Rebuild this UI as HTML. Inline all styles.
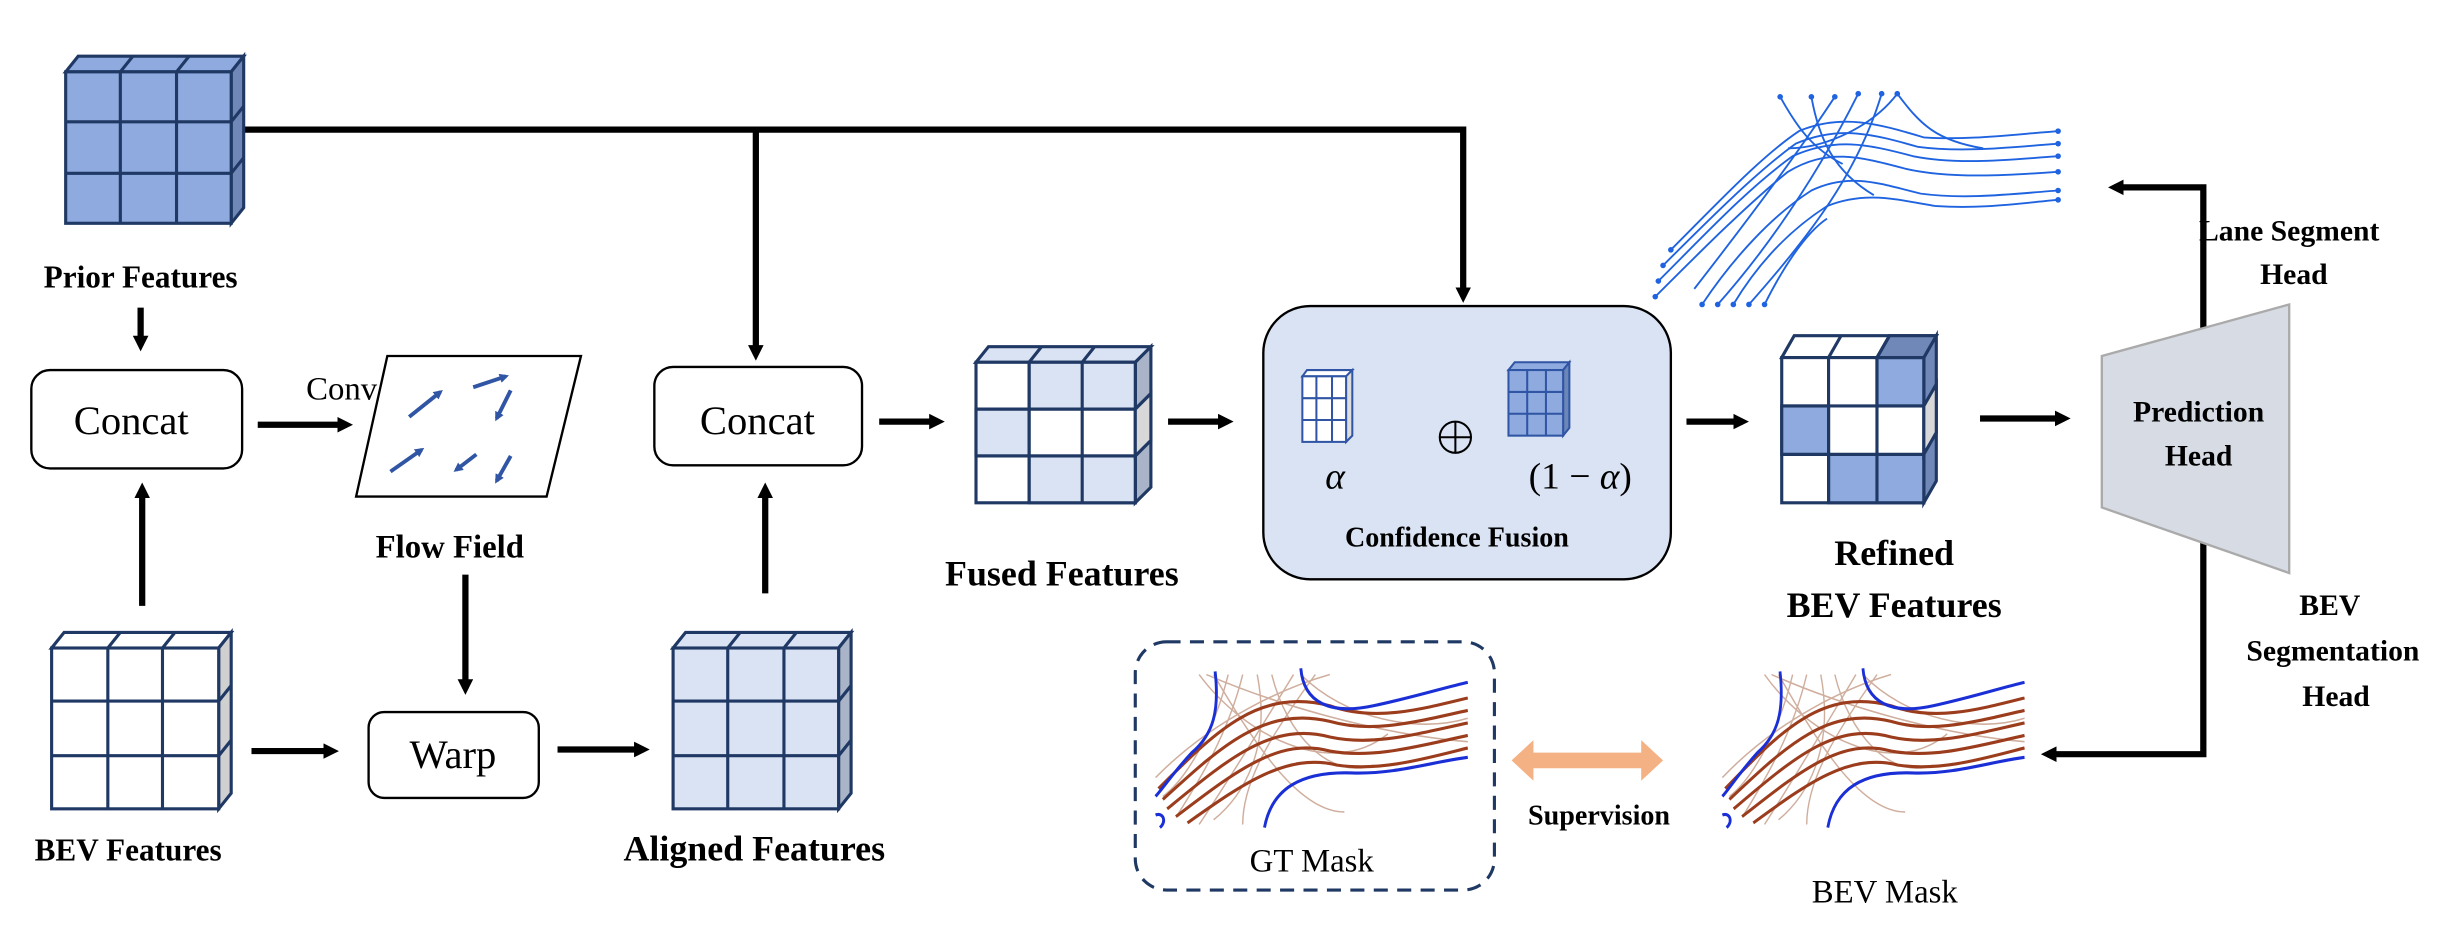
<!DOCTYPE html>
<html><head><meta charset="utf-8"><style>html,body{margin:0;padding:0;background:#fff}svg{display:block}</style></head><body>
<svg width="2447" height="940" viewBox="0 0 1567 602" xmlns="http://www.w3.org/2000/svg" font-family="'Liberation Serif', serif">
<defs>
<marker id="ah" markerWidth="10" markerHeight="10" refX="6" refY="5" orient="auto" markerUnits="userSpaceOnUse"><path d="M0,0 L10,5 L0,10 z" fill="#000"/></marker>
<marker id="ab" markerWidth="6" markerHeight="6" refX="4" refY="3" orient="auto" markerUnits="userSpaceOnUse"><path d="M0,0 L6,3 L0,6 z" fill="#2f55a4"/></marker>
<g id="mask">
 <g fill="none" stroke="#c49a86" stroke-width="1" opacity="0.8">
  <path d="M30,432 C60,470 120,500 160,470"/><path d="M40,432 C70,480 100,520 130,520"/><path d="M50,432 C40,470 20,500 5,510"/><path d="M60,432 C50,470 30,500 15,522"/><path d="M70,432 C80,480 60,510 40,525"/><path d="M80,432 C90,470 120,500 150,490"/><path d="M95,432 C70,470 50,500 30,528"/><path d="M100,432 C130,460 180,470 215,460"/><path d="M110,432 C80,470 60,500 60,528"/><path d="M35,432 C80,450 150,470 215,475"/><path d="M0,498 C40,460 90,440 120,432"/>
 </g>
 <g fill="none" stroke="#9b3d1d" stroke-width="2">
  <path d="M2,505 C40,470 70,440 120,452 C150,462 180,455 215,447"/>
  <path d="M5,512 C45,478 75,452 120,462 C150,470 180,462 215,455"/>
  <path d="M8,518 C50,486 80,462 120,472 C150,478 180,470 215,463"/>
  <path d="M14,523 C55,494 85,472 120,481 C150,486 180,478 215,471"/>
  <path d="M22,527 C60,502 90,482 125,490 C155,494 185,486 215,479"/>
 </g>
 <g fill="none" stroke="#1a2fd6" stroke-width="2">
  <path d="M41,430 C44,455 40,470 25,482 C12,495 5,505 0,510"/>
  <path d="M100,428 C102,450 120,458 150,452 C180,446 200,440 215,437"/>
  <path d="M215,485 C190,488 165,496 135,495 C100,494 80,505 75,530"/>
  <path d="M0,522 C5,520 8,526 3,530"/>
 </g>
</g>
</defs>

<g stroke="#000" stroke-width="4" fill="none">
 <path d="M148,83 H937 V190" marker-end="url(#ah)"/>
 <path d="M484,83 V227" marker-end="url(#ah)"/>
 <path d="M90,197 V221" marker-end="url(#ah)"/>
 <path d="M91,388 V313" marker-end="url(#ah)"/>
 <path d="M165,272 H222" marker-end="url(#ah)"/>
 <path d="M298,368 V441" marker-end="url(#ah)"/>
 <path d="M161,481 H213" marker-end="url(#ah)"/>
 <path d="M357,480 H412" marker-end="url(#ah)"/>
 <path d="M490,380 V313" marker-end="url(#ah)"/>
 <path d="M563,270 H601" marker-end="url(#ah)"/>
 <path d="M748,270 H786" marker-end="url(#ah)"/>
 <path d="M1080,270 H1116" marker-end="url(#ah)"/>
 <path d="M1268,268 H1322" marker-end="url(#ah)"/>
 <path d="M1411,228 V120 H1354" marker-end="url(#ah)"/>
 <path d="M1411,330 V483 H1311" marker-end="url(#ah)"/>
</g>

<g stroke="#1f3864" stroke-width="2">
 <path d="M42,46 L50,36 H156 L148,46 Z" fill="#8eaadf"/>
 <path d="M148,46 L156,36 V133 L148,143 Z" fill="#7088b8"/>
 <rect x="42" y="46" width="106" height="97" fill="#8eaadf"/>
 <path d="M77,46 V143 M113,46 V143 M42,78 H148 M42,111 H148 M77,46 L85,36 M113,46 L121,36 M148,78 L156,68 M148,111 L156,101" fill="none"/>
</g>
<text x="90" y="184" font-size="20" font-weight="bold" text-anchor="middle">Prior Features</text>

<rect x="20" y="237" width="135" height="63" rx="12" fill="#fff" stroke="#000" stroke-width="1.5"/>
<text x="84" y="278" font-size="26" text-anchor="middle">Concat</text>
<text x="196" y="256" font-size="21">Conv</text>

<path d="M248,228 H372 L350,318 H228 Z" fill="#fff" stroke="#000" stroke-width="1.5"/>
<g stroke="#2f55a4" stroke-width="2.5" marker-end="url(#ab)">
 <path d="M262,267 L282,251"/><path d="M303,248 L324,241"/><path d="M327,250 L318,268"/>
 <path d="M250,302 L270,288"/><path d="M305,291 L292,301"/><path d="M327,292 L318,308"/>
</g>
<text x="288" y="357" font-size="21" font-weight="bold" text-anchor="middle">Flow Field</text>

<rect x="236" y="456" width="109" height="55" rx="10" fill="#fff" stroke="#000" stroke-width="1.5"/>
<text x="290" y="492" font-size="26" text-anchor="middle">Warp</text>

<g stroke="#1f3864" stroke-width="2">
 <path d="M33,415 L41,405 H148 L140,415 Z" fill="#fff"/>
 <path d="M140,415 L148,405 V508 L140,518 Z" fill="#d0d0d0"/>
 <rect x="33" y="415" width="107" height="103" fill="#fff"/>
 <path d="M69,415 V518 M104,415 V518 M33,449 H140 M33,484 H140 M69,415 L77,405 M104,415 L112,405 M140,449 L148,439 M140,484 L148,474" fill="none"/>
</g>
<text x="82" y="551" font-size="20" font-weight="bold" text-anchor="middle">BEV Features</text>

<g stroke="#1f3864" stroke-width="2">
 <path d="M431,415 L439,405 H545 L537,415 Z" fill="#dae3f3"/>
 <path d="M537,415 L545,405 V508 L537,518 Z" fill="#a9b4c8"/>
 <rect x="431" y="415" width="106" height="103" fill="#dae3f3"/>
 <path d="M466,415 V518 M502,415 V518 M431,449 H537 M431,484 H537 M466,415 L474,405 M502,415 L510,405 M537,449 L545,439 M537,484 L545,474" fill="none"/>
</g>
<text x="483" y="551" font-size="23" font-weight="bold" text-anchor="middle">Aligned Features</text>

<rect x="419" y="235" width="133" height="63" rx="12" fill="#fff" stroke="#000" stroke-width="1.5"/>
<text x="485" y="278" font-size="26" text-anchor="middle">Concat</text>

<g stroke="#1f3864" stroke-width="2">
 <path d="M625,232 L633,222 H737 L727,232 Z" fill="#dae3f3"/>
 <path d="M727,232 L737,222 V312 L727,322 Z" fill="#a9b4c8"/>
 <rect x="625" y="232" width="102" height="90" fill="#fff"/>
 <rect x="659" y="232" width="68" height="30" fill="#dae3f3"/>
 <rect x="625" y="262" width="34" height="30" fill="#dae3f3"/>
 <rect x="659" y="292" width="68" height="30" fill="#dae3f3"/>
 <path d="M659,232 V322 M693,232 V322 M625,262 H727 M625,292 H727 M659,232 L667,222 M693,232 L701,222 M727,262 L737,252 M727,292 L737,282" fill="none"/>
 <path d="M727,262 L737,252 V282 L727,292 Z" fill="#d8d8d8"/>
</g>
<text x="680" y="375" font-size="23" font-weight="bold" text-anchor="middle">Fused Features</text>

<rect x="809" y="196" width="261" height="175" rx="30" fill="#dae3f3" stroke="#000" stroke-width="1.5"/>
<g stroke="#2f55a4" stroke-width="1.3">
 <path d="M834,241 L837,237 H866 L862,241 Z" fill="#fff"/>
 <path d="M862,241 L866,237 V279 L862,283 Z" fill="#ddd"/>
 <rect x="834" y="241" width="28" height="42" fill="#fff"/>
 <path d="M843,241 V283 M853,241 V283 M834,255 H862 M834,269 H862" fill="none"/>
 <path d="M966,237 L970,232 H1005 L1001,237 Z" fill="#8eaadf"/>
 <path d="M1001,237 L1005,232 V274 L1001,279 Z" fill="#6d86b8"/>
 <rect x="966" y="237" width="35" height="42" fill="#8eaadf"/>
 <path d="M978,237 V279 M990,237 V279 M966,251 H1001 M966,265 H1001" fill="none"/>
</g>
<text x="855" y="313" font-size="24" font-style="italic" text-anchor="middle">α</text>
<circle cx="932" cy="280" r="10" fill="none" stroke="#000" stroke-width="1.3"/>
<path d="M922,280 H942 M932,270 V290" stroke="#000" stroke-width="1.3"/>
<text x="1012" y="313" font-size="24" text-anchor="middle">(1 − <tspan font-style="italic">α</tspan>)</text>
<text x="933" y="350" font-size="18" font-weight="bold" text-anchor="middle">Confidence Fusion</text>

<g stroke="#1f3864" stroke-width="2">
 <path d="M1141,229 L1149,215 H1240 L1232,229 Z" fill="#fff"/>
 <path d="M1232,229 L1240,215 V308 L1232,322 Z" fill="#7088b8"/>
 <rect x="1141" y="229" width="91" height="93" fill="#fff"/>
 <rect x="1202" y="229" width="30" height="31" fill="#8eaadf"/>
 <rect x="1141" y="260" width="30" height="31" fill="#8eaadf"/>
 <rect x="1171" y="291" width="61" height="31" fill="#8eaadf"/>
 <path d="M1202,229 L1210,215 H1240 L1232,229 Z" fill="#7088b8"/>
 <path d="M1232,260 L1240,246 V277 L1232,291 Z" fill="#d8d8d8"/>
 <path d="M1171,229 V322 M1202,229 V322 M1141,260 H1232 M1141,291 H1232 M1171,229 L1179,215 M1202,229 L1210,215" fill="none"/>
</g>
<text x="1213" y="362" font-size="23" font-weight="bold" text-anchor="middle">Refined</text>
<text x="1213" y="395" font-size="23" font-weight="bold" text-anchor="middle">BEV Features</text>

<path d="M1346,228 L1466,195 V367 L1346,325 Z" fill="#d6dbe4" stroke="#aaa" stroke-width="1.5"/>
<text x="1408" y="270" font-size="19" font-weight="bold" text-anchor="middle">Prediction</text>
<text x="1408" y="298" font-size="19" font-weight="bold" text-anchor="middle">Head</text>
<text x="1466" y="154" font-size="19" font-weight="bold" text-anchor="middle">Lane Segment</text>
<text x="1469" y="182" font-size="19" font-weight="bold" text-anchor="middle">Head</text>
<text x="1492" y="394" font-size="19" font-weight="bold" text-anchor="middle">BEV</text>
<text x="1494" y="423" font-size="19" font-weight="bold" text-anchor="middle">Segmentation</text>
<text x="1496" y="452" font-size="19" font-weight="bold" text-anchor="middle">Head</text>

<g fill="none" stroke="#1f63e0" stroke-width="1.2">
 <path d="M1060,190 C1090,160 1120,130 1145,110 C1170,95 1190,100 1220,108 C1250,115 1290,112 1318,110" />
 <path d="M1062,180 C1092,150 1120,120 1148,100 C1175,88 1195,92 1225,100 C1255,106 1290,102 1318,100"/>
 <path d="M1065,170 C1095,140 1125,110 1150,92 C1178,80 1200,86 1228,94 C1258,98 1290,94 1318,92"/>
 <path d="M1070,160 C1100,130 1128,100 1152,84 C1180,72 1205,80 1232,88 C1260,90 1290,86 1318,84"/>
 <path d="M1090,195 C1110,165 1135,138 1160,122 C1185,110 1205,118 1230,124 C1260,128 1290,124 1318,122"/>
 <path d="M1110,195 C1125,170 1145,148 1170,132 C1195,122 1215,128 1240,132 C1270,134 1295,130 1318,128"/>
 <path d="M1130,195 C1140,175 1155,150 1170,140"/>
 <path d="M1160,62 C1165,90 1175,110 1200,125"/><path d="M1175,62 C1150,100 1120,140 1085,185"/>
 <path d="M1190,60 C1170,100 1140,150 1100,195"/><path d="M1205,60 C1190,110 1160,150 1120,195"/>
 <path d="M1215,60 C1230,80 1240,90 1270,95"/><path d="M1140,62 C1150,80 1160,95 1180,105"/>
 <path d="M1215,60 C1200,80 1170,95 1145,95"/>
</g>
<g fill="#1f63e0">
 <circle cx="1060" cy="190" r="1.8"/><circle cx="1062" cy="180" r="1.8"/><circle cx="1065" cy="170" r="1.8"/><circle cx="1070" cy="160" r="1.8"/>
 <circle cx="1318" cy="84" r="1.8"/><circle cx="1318" cy="92" r="1.8"/><circle cx="1318" cy="100" r="1.8"/><circle cx="1318" cy="110" r="1.8"/><circle cx="1318" cy="122" r="1.8"/><circle cx="1318" cy="128" r="1.8"/>
 <circle cx="1140" cy="62" r="1.8"/><circle cx="1160" cy="62" r="1.8"/><circle cx="1175" cy="62" r="1.8"/><circle cx="1190" cy="60" r="1.8"/><circle cx="1205" cy="60" r="1.8"/><circle cx="1215" cy="60" r="1.8"/>
 <circle cx="1090" cy="195" r="1.8"/><circle cx="1110" cy="195" r="1.8"/><circle cx="1130" cy="195" r="1.8"/><circle cx="1100" cy="195" r="1.8"/><circle cx="1120" cy="195" r="1.8"/>
</g>

<rect x="727" y="411" width="230" height="159" rx="20" fill="none" stroke="#1f3864" stroke-width="2" stroke-dasharray="9,6"/>
<use href="#mask" transform="translate(740,0) scale(0.93,1)"/>
<text x="840" y="558" font-size="21" text-anchor="middle">GT Mask</text>

<path d="M968,487 L982,474 V482 H1051 V474 L1065,487 L1051,500 V492 H982 V500 Z" fill="#f4b183"/>
<text x="1024" y="528" font-size="18" font-weight="bold" text-anchor="middle">Supervision</text>

<use href="#mask" transform="translate(1103,0) scale(0.9,1)"/>
<text x="1207" y="578" font-size="21" text-anchor="middle">BEV Mask</text>
</svg>
</body></html>
